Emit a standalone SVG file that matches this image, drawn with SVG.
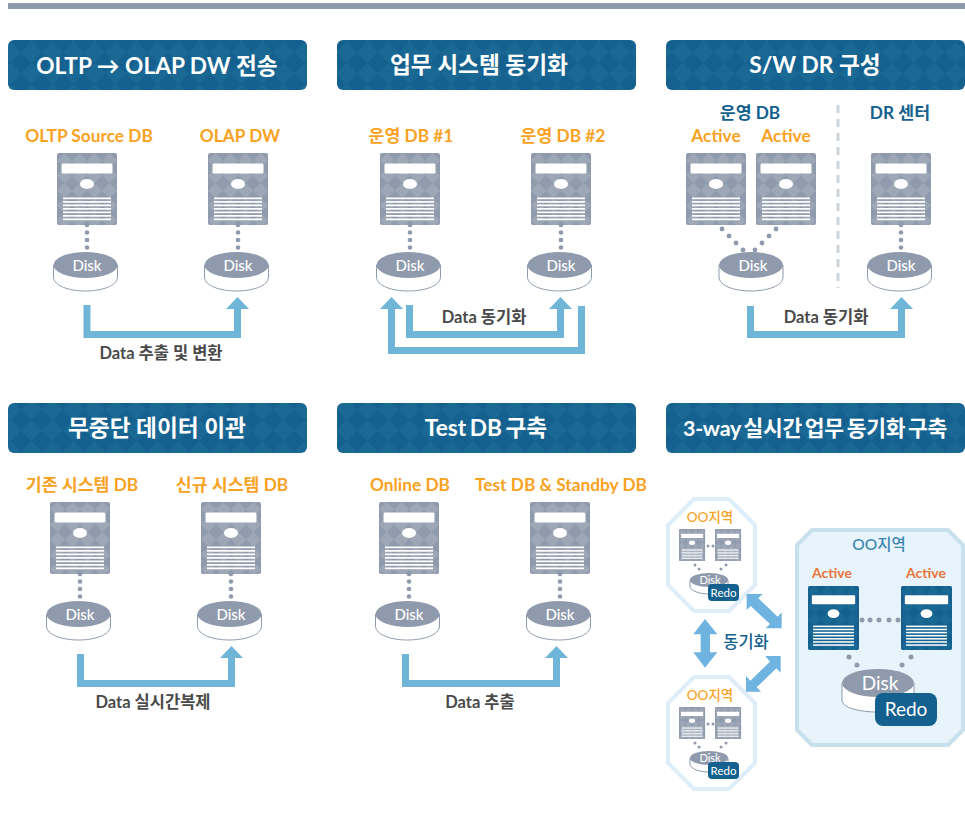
<svg xmlns="http://www.w3.org/2000/svg" width="965" height="813" viewBox="0 0 965 813">
<style>
text{font-family:Lato,"Noto Sans CJK KR",sans-serif;text-anchor:middle}
.h{font-size:22.700px;font-weight:700;fill:#fff}
.o{font-size:17.300px;font-weight:700;fill:#f9a21f}
.b{font-size:17.300px;font-weight:700;fill:#14618f}
.d{font-size:16.500px;font-weight:700;fill:#4a4a4a}
.k{font-size:15px;fill:#fff;font-weight:500}
.a{fill:none;stroke:#6fb5d8;stroke-width:7}
.ah{fill:#6fb5d8}
.dot{fill:#8f9bad}
.da{fill:#6fb3e0}
</style>
<defs>
<pattern id="hp" width="21" height="21" patternUnits="userSpaceOnUse"><rect width="21" height="21" fill="#14618f"/><path d="M10.500 0 21 10.500 10.500 21 0 10.500Z" fill="#1a6894"/></pattern>
<pattern id="sp" width="15" height="15" patternUnits="userSpaceOnUse"><rect width="15" height="15" fill="#8f9bad"/><path d="M7.500 0 15 7.500 7.500 15 0 7.500Z" fill="#9da7b6"/></pattern>
<pattern id="bp" width="15" height="15" patternUnits="userSpaceOnUse"><rect width="15" height="15" fill="#14618f"/><path d="M7.500 0 15 7.500 7.500 15 0 7.500Z" fill="#1a6894"/></pattern>
<g id="lines" fill="#fff"><rect x="6" y="44.500" width="48" height="1.700"/><rect x="6" y="48" width="48" height="1.700"/><rect x="6" y="51.500" width="48" height="1.700"/><rect x="6" y="55" width="48" height="1.700"/><rect x="6" y="58.500" width="48" height="1.700"/><rect x="6" y="62" width="48" height="1.700"/><rect x="6" y="65.500" width="48" height="1.700"/></g>
<g id="srv"><rect width="60" height="72" rx="2" fill="url(#sp)"/><rect x="4.500" y="10.500" width="51" height="10" rx="1.500" fill="#fff"/><ellipse cx="30" cy="31" rx="7" ry="5" fill="#fff"/><use href="#lines"/></g>
<g id="bsrv"><rect width="60" height="72" rx="2" fill="url(#bp)"/><rect x="4.500" y="10.500" width="51" height="10" rx="1.500" fill="#fff"/><ellipse cx="30" cy="31" rx="7" ry="5" fill="#fff"/><use href="#lines"/></g>
<g id="disk"><path d="M-32 0V12C-32 21-16 26 0 26S32 21 32 12V0Z" fill="#fff" stroke="#8f9bad" stroke-width="1"/><ellipse cx="0" cy="0" rx="32" ry="13" fill="#8f9bad"/></g>
<g id="vd" class="dot"><circle cx="0" cy="0" r="2.300"/><circle cx="0" cy="7.500" r="2.300"/><circle cx="0" cy="15" r="2.300"/><circle cx="0" cy="22.500" r="2.300"/></g>
<g id="unit"><use href="#srv"/><use href="#vd" x="30" y="72"/><use href="#disk" x="28.500" y="112"/><text class="k" x="30" y="118">Disk</text></g>
<g id="small"><g transform="scale(.435 .445)"><use href="#srv"/></g><g transform="translate(36,0) scale(.435 .445)"><use href="#srv"/></g>
<circle class="dot" cx="29" cy="17" r="1.500"/><circle class="dot" cx="34" cy="17" r="1.500"/>
<g class="dot"><circle cx="16" cy="36" r="1.500"/><circle cx="20" cy="40" r="1.500"/><circle cx="47" cy="36" r="1.500"/><circle cx="42" cy="40" r="1.500"/></g>
<path d="M11 51V57C11 62 21 65 30 65S49 62 49 57V51Z" fill="#fff" stroke="#8f9bad"/><ellipse cx="30" cy="51" rx="19" ry="7" fill="#8f9bad"/><text x="31" y="55" style="font-size:11px;fill:#fff">Disk</text>
<rect x="29" y="55" width="31" height="17" rx="4" fill="#14618f"/><text x="44.500" y="68" style="font-size:11.500px;fill:#fff">Redo</text></g>
</defs>
<rect width="965" height="813" fill="#fff"/>
<rect id="topbar" x="8" y="3" width="957" height="6" fill="#8f9bad"/>

<g id="header-1"><rect x="8" y="40" width="299" height="50" rx="6" fill="url(#hp)"/><text class="h" x="157" y="74">OLTP → OLAP DW 전송</text></g>
<g id="header-2"><rect x="337" y="40" width="299" height="50" rx="6" fill="url(#hp)"/><text class="h" x="479" y="73">업무 시스템 동기화</text></g>
<g id="header-3"><rect x="666" y="40" width="299" height="50" rx="6" fill="url(#hp)"/><text class="h" x="815" y="73">S/W DR 구성</text></g>
<g id="header-4"><rect x="8" y="403" width="299" height="50" rx="6" fill="url(#hp)"/><text class="h" x="157" y="436">무중단 데이터 이관</text></g>
<g id="header-5"><rect x="337" y="403" width="299" height="50" rx="6" fill="url(#hp)"/><text class="h" x="486" y="436" style="word-spacing:-2px">Test DB 구축</text></g>
<g id="header-6"><rect x="666" y="403" width="299" height="50" rx="6" fill="url(#hp)"/><text class="h" x="815" y="436" style="font-size:21.500px;word-spacing:-2px;letter-spacing:-.3px">3-way 실시간 업무 동기화 구축</text></g>

<g id="connectors">
<path class="a" d="M87 305V334.500H237.500V305"/><path class="ah" d="M237.500 297 249 309H226Z"/>
<path class="a" d="M409.500 305V334.500H560.500V305"/><path class="ah" d="M560.500 297 572 309H549Z"/>
<path class="a" d="M581.500 306V350.500H391.500V305"/><path class="ah" d="M391.500 297 403 309H380Z"/>
<path class="a" d="M750.500 306V334.500H901.500V305"/><path class="ah" d="M901.500 297 913 309H890Z"/>
<path class="a" d="M80.500 654V683.500H231.500V654"/><path class="ah" d="M231.500 646 243 658H220Z"/>
<path class="a" d="M405.500 654V683.500H556.500V654"/><path class="ah" d="M556.500 646 568 658H545Z"/>
<g class="dot"><circle cx="722" cy="229" r="2.400"/><circle cx="729" cy="236" r="2.400"/><circle cx="736" cy="243" r="2.400"/><circle cx="743" cy="250" r="2.400"/><circle cx="755" cy="250" r="2.400"/><circle cx="762" cy="243" r="2.400"/><circle cx="769" cy="236" r="2.400"/><circle cx="776" cy="229" r="2.400"/></g>
<path d="M838 105V288" stroke="#ccd3da" stroke-width="3" stroke-dasharray="8 6" fill="none"/>
</g>

<g id="s1"><text class="o" x="89" y="142">OLTP Source DB</text><text class="o" x="240" y="142">OLAP DW</text>
<use href="#unit" x="57" y="153"/><use href="#unit" x="208" y="153"/><text class="d" x="161" y="359">Data 추출 및 변환</text></g>
<g id="s2"><text class="o" x="411" y="142">운영 DB #1</text><text class="o" x="563" y="142">운영 DB #2</text>
<use href="#unit" x="380" y="153"/><use href="#unit" x="531" y="153"/><text class="d" x="484" y="323">Data 동기화</text></g>
<g id="s3"><text class="b" x="750" y="119">운영 DB</text><text class="b" x="900" y="119">DR 센터</text><text class="o" x="716" y="142">Active</text><text class="o" x="786" y="142">Active</text>
<use href="#srv" x="686" y="153"/><use href="#srv" x="756" y="153"/><use href="#disk" x="751" y="265"/><text class="k" x="753" y="271">Disk</text><use href="#unit" x="871" y="153"/><text class="d" x="826" y="323">Data 동기화</text></g>
<g id="s4"><text class="o" x="82" y="491">기존 시스템 DB</text><text class="o" x="232" y="491">신규 시스템 DB</text>
<use href="#unit" x="50" y="502"/><use href="#unit" x="201" y="502"/><text class="d" x="153" y="708">Data 실시간복제</text></g>
<g id="s5"><text class="o" x="410" y="491">Online DB</text><text class="o" x="561" y="491">Test DB &amp; Standby DB</text>
<use href="#unit" x="379" y="502"/><use href="#unit" x="530" y="502"/><text class="d" x="480" y="708">Data 추출</text></g>

<g id="region-top"><path d="M694 499H729L755 525V585L729 611H694L668 585V525Z" fill="#fff" stroke="#deeef8" stroke-width="4"/><text x="710" y="522" style="font-size:13.500px;font-weight:500;fill:#f9a21f">OO지역</text><use href="#small" x="679" y="529"/></g>
<g id="region-bottom"><path d="M694 677H729L755 703V763L729 789H694L668 763V703Z" fill="#fff" stroke="#deeef8" stroke-width="4"/><text x="710" y="700" style="font-size:13.500px;font-weight:500;fill:#f9a21f">OO지역</text><use href="#small" x="679" y="707"/></g>
<g id="region-main"><path d="M812 530H948L963 545V730L948 745H812L797 730V545Z" fill="#e8f4fb" stroke="#c8dfec" stroke-width="4"/>
<text x="879" y="550" style="font-size:15.500px;font-weight:500;fill:#3b86b0">OO지역</text>
<text x="832" y="578" style="font-size:14px;font-weight:700;fill:#e8743b">Active</text><text x="926" y="578" style="font-size:14px;font-weight:700;fill:#e8743b">Active</text>
<g transform="translate(808,586) scale(.85 .89)"><use href="#bsrv"/></g><g transform="translate(901,586) scale(.85 .89)"><use href="#bsrv"/></g>
<g class="dot"><circle cx="862" cy="620" r="2.500"/><circle cx="870" cy="620" r="2.500"/><circle cx="879" cy="620" r="2.500"/><circle cx="889" cy="620" r="2.500"/><circle cx="898" cy="620" r="2.500"/><circle cx="849" cy="657" r="2.500"/><circle cx="857" cy="665" r="2.500"/><circle cx="911" cy="657" r="2.500"/><circle cx="902" cy="665" r="2.500"/></g>
<path d="M842 683V700C842 708 860 712 878 712S914 708 914 700V683Z" fill="#fff" stroke="#8f9bad"/><ellipse cx="878" cy="683" rx="36" ry="14" fill="#8f9bad"/>
<text x="880" y="690" style="font-size:19px;fill:#fff">Disk</text>
<rect x="875" y="693" width="62" height="33" rx="8" fill="#14618f"/><text x="906" y="716" style="font-size:19px;fill:#fff">Redo</text></g>
<g id="sync"><g class="da" transform="translate(660,490) scale(.33333)">
<path d="M135 387 172 433H150V487H172L135 533 100 487H122V433H100Z"/>
<path d="M260 312H308L295 325 353 380 365 367V415H316L330 402 272 348 260 360Z"/>
<path d="M362 498V548L349 535 290 592 303 605H258V558L271 572 330 515 316 498Z"/></g>
<text x="746" y="648" style="font-size:16.500px;font-weight:500;fill:#14618f">동기화</text></g>
</svg>
